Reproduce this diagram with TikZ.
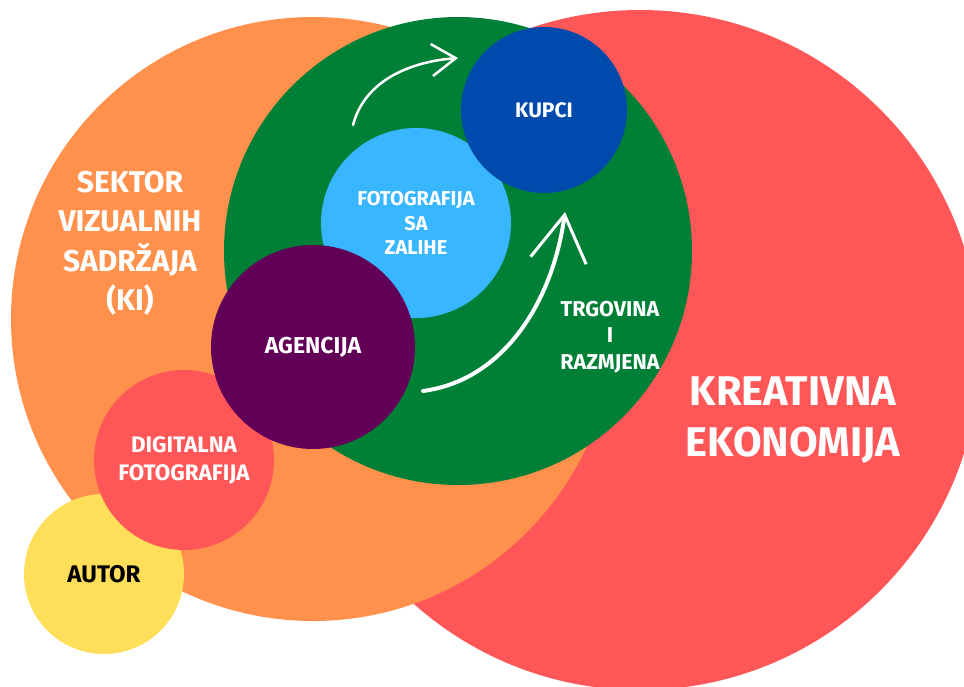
\documentclass[tikz,border=0pt]{standalone}
\usepackage{fontspec}
\setmainfont{Fira Sans}
\usetikzlibrary{arrows.meta}

\definecolor{ekored}{HTML}{FF5757}
\definecolor{sektororange}{HTML}{FF914D}
\definecolor{tradegreen}{HTML}{008037}
\definecolor{buyerblue}{HTML}{004AAD}
\definecolor{stockblue}{HTML}{38B6FF}
\definecolor{agencypurple}{HTML}{620058}
\definecolor{authoryellow}{HTML}{FFDE59}

\begin{document}
\begin{tikzpicture}[x=1pt, y=-1pt, thick]
\tikzstyle{bubble} = [circle, inner sep=0pt, text=white, align=center]
\tikzstyle{caption} = [inner sep=0pt, text=white, align=center]
\tikzstyle{swoosh} = [draw=white, line cap=round]

\useasboundingbox (0,0) rectangle (964,686);

% circles, back to front
\node [bubble, fill=ekored, minimum size=680pt] (kreativna) at (640,350) {};
\node [bubble, fill=sektororange, minimum size=604pt] (sektor) at (313,319) {};
\node [bubble, fill=tradegreen, minimum size=468pt] (trgovina) at (458,251) {};
\node [bubble, fill=stockblue, minimum size=190pt,
       font=\bfseries\fontsize{20}{24.5}\selectfont] (zalihe) at (416,223) {FOTOGRAFIJA\\SA\\ZALIHE};
\node [bubble, fill=buyerblue, minimum size=166pt,
       font=\bfseries\fontsize{21}{24}\selectfont] (kupci) at (544,110) {KUPCI};
\node [bubble, fill=authoryellow, minimum size=160pt, text=black,
       font=\bfseries\fontsize{24}{26}\selectfont] (autor) at (104,574) {AUTOR};
\node [bubble, fill=ekored, minimum size=180pt,
       font=\bfseries\fontsize{22.4}{28}\selectfont] (digitalna) at (184,460) {DIGITALNA\\FOTOGRAFIJA};
\node [bubble, fill=agencypurple, minimum size=204pt,
       font=\bfseries\fontsize{23}{24}\selectfont] (agencija) at (313,347) {AGENCIJA};

% labels of the big circles
\node [caption, font=\bfseries\fontsize{30}{39.5}\selectfont] (sektortext) at (130,243)
      {SEKTOR\\VIZUALNIH\\SADRŽAJA\\(KI)};
\node [caption, font=\bfseries\fontsize{21.5}{26.5}\selectfont] (trgovinatext) at (610,337)
      {TRGOVINA\\I\\RAZMJENA};
\node [caption, font=\bfseries\fontsize{41.5}{51}\selectfont] (kreativnatext) at (793,420)
      {KREATIVNA\\EKONOMIJA};

% arrows
\coordinate (upstart) at (353,125);
\coordinate (uptip) at (458,58);
\coordinate (bigstart) at (423,391);
\coordinate (bigtip) at (565,212);
\path [swoosh, line width=2.5pt, -{Straight Barb[length=24pt, width=32pt, line width=2.5pt]}]
      (upstart) .. controls (366,76) and (418,61) .. (uptip);
\path [swoosh, line width=4pt, -{Straight Barb[length=46pt, width=56pt, line width=3pt]}]
      (bigstart) .. controls (505,380) and (553,300) .. (bigtip);
\end{tikzpicture}
\end{document}
